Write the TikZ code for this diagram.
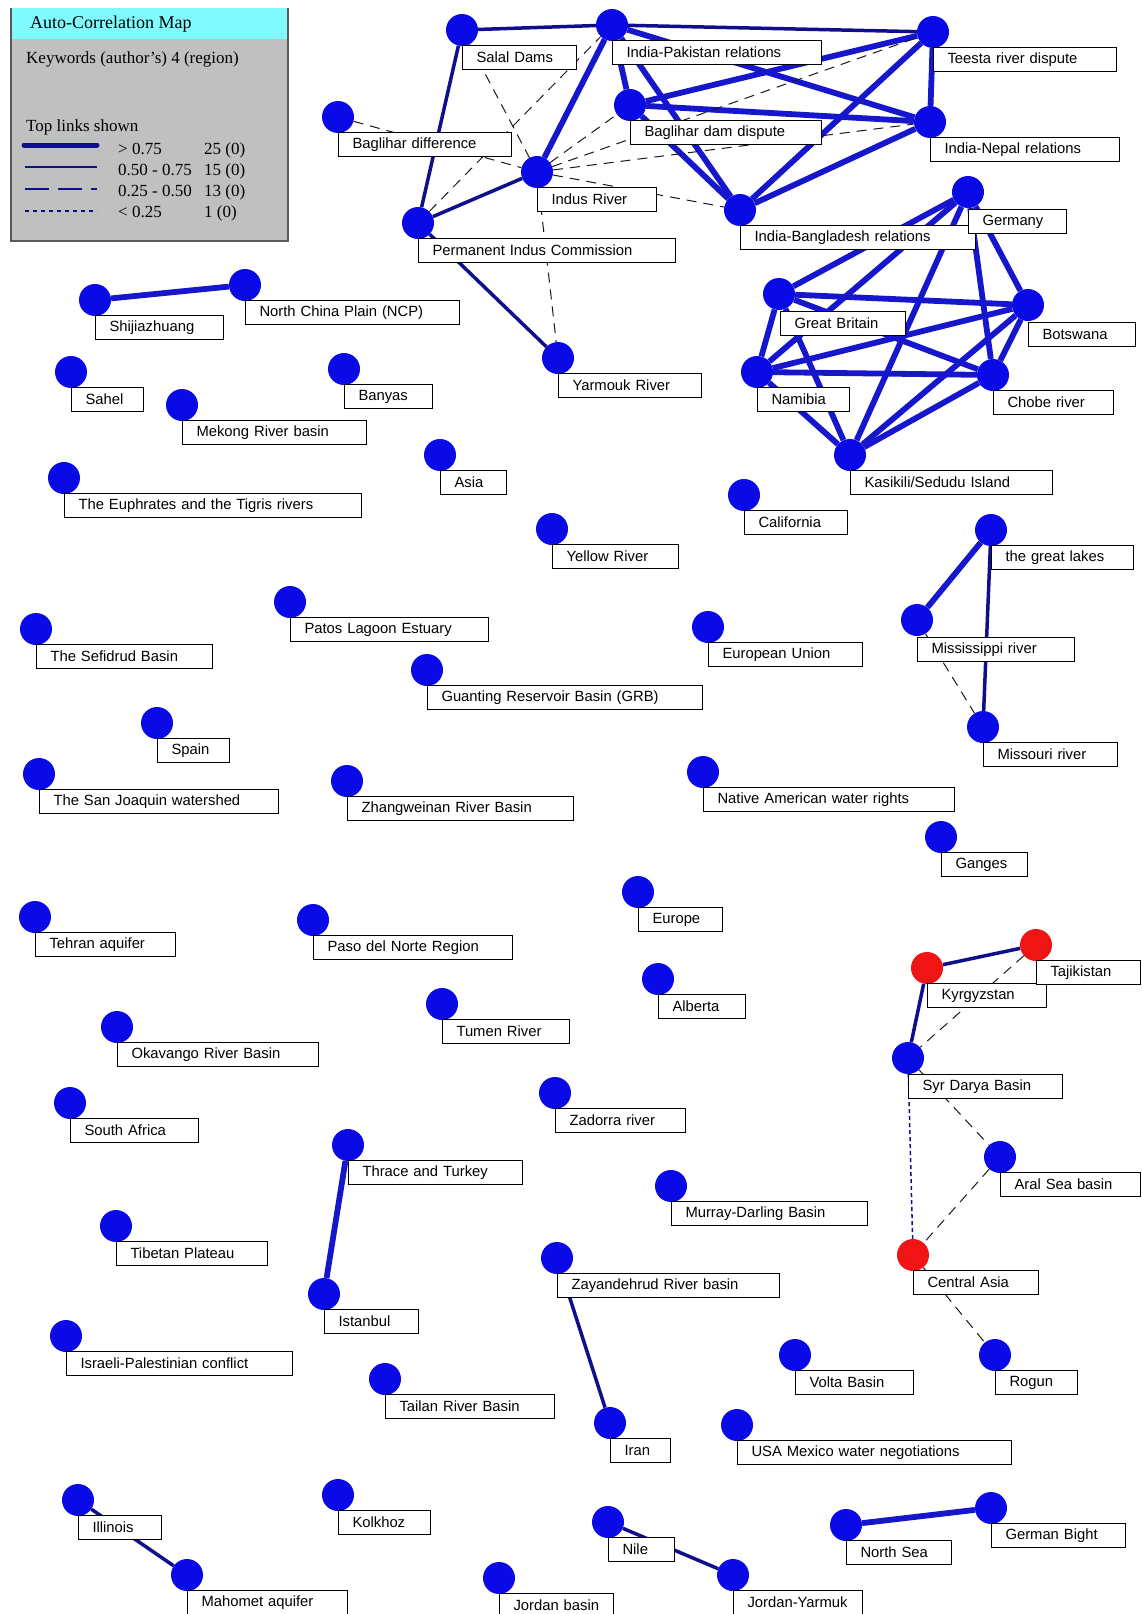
\documentclass[tikz,border=0pt]{standalone}
\usepackage{fontspec}
\setmainfont{Liberation Serif}
\newfontfamily\tagfont{Liberation Sans}
\usetikzlibrary{positioning,backgrounds}
\definecolor{kwblue}{RGB}{10,10,230}
\definecolor{kwred}{RGB}{240,20,20}
\definecolor{linkblue}{RGB}{22,22,205}
\definecolor{linknavy}{RGB}{15,15,140}
\definecolor{legendgrey}{RGB}{192,192,192}
\definecolor{legendcyan}{RGB}{128,250,255}
\hyphenpenalty=10000
\exhyphenpenalty=10000

\begin{document}
\begin{tikzpicture}[x=1pt, y=-1pt,
    kw/.style={circle, fill=kwblue, minimum size=32pt, inner sep=0pt},
    kwr/.style={kw, fill=kwred},
    tag/.style={draw, fill=white, line width=1pt, align=left, inner xsep=14pt, inner ysep=2pt, minimum height=24pt, font=\tagfont\fontsize{14.8}{17}\selectfont},
    tie strong/.style={linkblue, line width=5.8pt},
    tie mid/.style={linknavy, line width=3.5pt},
    tie weak/.style={black!90, line width=1pt, dash pattern=on 10pt off 7pt},
    tie faint/.style={linknavy, line width=1.5pt, dash pattern=on 4pt off 3pt},
    legtext/.style={anchor=base west, inner sep=0pt, font=\fontsize{17}{20}\selectfont}]
    \useasboundingbox (0,0) rectangle (1141,1614);

    % legend
    \fill[legendgrey] (11,8) rectangle (288,241);
    \fill[legendcyan] (12,8) rectangle (287,39);
    \draw[black!65, line width=1.5pt] (11,8) -- (11,241) -- (288,241) -- (288,8);
    \node[legtext, font=\fontsize{18}{21}\selectfont] (maptitle) at (30,28) {Auto-Correlation Map};
    \node[legtext] (kwtype) at (26,63) {Keywords (author's) 4 (region)};
    \node[legtext] (toplinks) at (26,131) {Top links shown};
    \node[legtext] (band1) at (118,154) {> 0.75};
    \node[legtext] (band2) at (118,175) {0.50 - 0.75};
    \node[legtext] (band3) at (118,196) {0.25 - 0.50};
    \node[legtext] (band4) at (118,217) {< 0.25};
    \node[legtext] (count1) at (204,154) {25 (0)};
    \node[legtext] (count2) at (204,175) {15 (0)};
    \node[legtext] (count3) at (204,196) {13 (0)};
    \node[legtext] (count4) at (204,217) {1 (0)};
    \draw[linknavy, line width=5pt, line cap=round] (24,145) -- (97,145);
    \draw[linknavy, line width=1.8pt] (25,167) -- (97,167);
    \draw[linknavy, line width=1.5pt, dash pattern=on 24pt off 9pt] (25,189) -- (97,189);
    \draw[linknavy, line width=1.3pt, dash pattern=on 4pt off 4pt] (25,211) -- (97,211);

    % India / Pakistan cluster
    \node[kw] (salal) at (462,30) {};
    \node[tag, text width=86pt, below right=15pt and 0pt of salal.center] (salal-t) {Salal Dams};
    \node[kw] (indpak) at (612,25) {};
    \node[tag, text width=181pt, below right=15pt and 0pt of indpak.center] (indpak-t) {India-Pakistan relations};
    \node[kw] (teesta) at (933,32) {};
    \node[tag, text width=155pt, below right=15pt and 0pt of teesta.center] (teesta-t) {Teesta river dispute};
    \node[kw] (bagdam) at (630,105) {};
    \node[tag, text width=163pt, below right=15pt and 0pt of bagdam.center] (bagdam-t) {Baglihar dam dispute};
    \node[kw] (indnep) at (930,122) {};
    \node[tag, text width=161pt, below right=15pt and 0pt of indnep.center] (indnep-t) {India-Nepal relations};
    \node[kw] (indus) at (537,172) {};
    \node[tag, text width=91pt, below right=15pt and 0pt of indus.center] (indus-t) {Indus River};
    \node[kw] (bagdiff) at (338,117) {};
    \node[tag, text width=145pt, below right=15pt and 0pt of bagdiff.center] (bagdiff-t) {Baglihar difference};
    \node[kw] (pic) at (418,223) {};
    \node[tag, text width=229pt, below right=15pt and 0pt of pic.center] (pic-t) {Permanent Indus Commission};
    \node[kw] (indbang) at (740,210) {};
    \node[tag, text width=207pt, below right=15pt and 0pt of indbang.center] (indbang-t) {India-Bangladesh relations};
    \node[kw] (yarmouk) at (558,358) {};
    \node[tag, text width=115pt, below right=15pt and 0pt of yarmouk.center] (yarmouk-t) {Yarmouk River};

    % Africa cluster
    \node[kw] (germany) at (968,192) {};
    \node[tag, text width=70pt, below right=17pt and 0pt of germany.center] (germany-t) {Germany};
    \node[kw] (britain) at (779,294) {};
    \node[tag, text width=97pt, below right=17pt and 1pt of britain.center] (britain-t) {Great Britain};
    \node[kw] (botswana) at (1028,305) {};
    \node[tag, text width=79pt, below right=17pt and 0pt of botswana.center] (botswana-t) {Botswana};
    \node[kw] (namibia) at (757,372) {};
    \node[tag, text width=64pt, below right=15pt and 0pt of namibia.center] (namibia-t) {Namibia};
    \node[kw] (chobe) at (993,375) {};
    \node[tag, text width=92pt, below right=15pt and 0pt of chobe.center] (chobe-t) {Chobe river};
    \node[kw] (kasikili) at (850,455) {};
    \node[tag, text width=174pt, below right=15pt and 0pt of kasikili.center] (kasikili-t) {Kasikili/Sedudu Island};

    % single keywords, left and middle
    \node[kw] (shijia) at (95,300) {};
    \node[tag, text width=100pt, below right=15pt and 0pt of shijia.center] (shijia-t) {Shijiazhuang};
    \node[kw] (ncp) at (245,285) {};
    \node[tag, text width=186pt, below right=15pt and 0pt of ncp.center] (ncp-t) {North China Plain (NCP)};
    \node[kw] (sahel) at (71,372) {};
    \node[tag, text width=44pt, below right=15pt and 0pt of sahel.center] (sahel-t) {Sahel};
    \node[kw] (banyas) at (344,369) {};
    \node[tag, text width=60pt, below right=15pt and 0pt of banyas.center] (banyas-t) {Banyas};
    \node[kw] (mekong) at (182,405) {};
    \node[tag, text width=156pt, below right=15pt and 0pt of mekong.center] (mekong-t) {Mekong River basin};
    \node[kw] (asia) at (440,455) {};
    \node[tag, text width=38pt, below right=15pt and 0pt of asia.center] (asia-t) {Asia};
    \node[kw] (euphrates) at (64,478) {};
    \node[tag, text width=269pt, below right=15pt and 0pt of euphrates.center] (euphrates-t) {The Euphrates and the Tigris rivers};
    \node[kw] (california) at (744,495) {};
    \node[tag, text width=75pt, below right=15pt and 0pt of california.center] (california-t) {California};
    \node[kw] (yellow) at (552,529) {};
    \node[tag, text width=98pt, below right=15pt and 0pt of yellow.center] (yellow-t) {Yellow River};
    \node[kw] (patos) at (290,602) {};
    \node[tag, text width=170pt, below right=15pt and 0pt of patos.center] (patos-t) {Patos Lagoon Estuary};
    \node[kw] (sefidrud) at (36,629) {};
    \node[tag, text width=148pt, below right=15pt and 0pt of sefidrud.center] (sefidrud-t) {The Sefidrud Basin};
    \node[kw] (eu) at (708,627) {};
    \node[tag, text width=126pt, below right=15pt and 0pt of eu.center] (eu-t) {European Union};
    \node[kw] (guanting) at (427,670) {};
    \node[tag, text width=247pt, below right=15pt and 0pt of guanting.center] (guanting-t) {Guanting Reservoir Basin (GRB)};
    \node[kw] (spain) at (157,723) {};
    \node[tag, text width=44pt, below right=15pt and 0pt of spain.center] (spain-t) {Spain};
    \node[kw] (sanjoaquin) at (39,774) {};
    \node[tag, text width=211pt, below right=15pt and 0pt of sanjoaquin.center] (sanjoaquin-t) {The San Joaquin watershed};
    \node[kw] (zhangweinan) at (347,781) {};
    \node[tag, text width=198pt, below right=15pt and 0pt of zhangweinan.center] (zhangweinan-t) {Zhangweinan River Basin};
    \node[kw] (native) at (703,772) {};
    \node[tag, text width=223pt, below right=15pt and 0pt of native.center] (native-t) {Native American water rights};
    \node[kw] (ganges) at (941,837) {};
    \node[tag, text width=58pt, below right=15pt and 0pt of ganges.center] (ganges-t) {Ganges};
    \node[kw] (europe) at (638,892) {};
    \node[tag, text width=56pt, below right=15pt and 0pt of europe.center] (europe-t) {Europe};
    \node[kw] (tehran) at (35,917) {};
    \node[tag, text width=112pt, below right=15pt and 0pt of tehran.center] (tehran-t) {Tehran aquifer};
    \node[kw] (paso) at (313,920) {};
    \node[tag, text width=171pt, below right=15pt and 0pt of paso.center] (paso-t) {Paso del Norte Region};
    \node[kw] (alberta) at (658,979) {};
    \node[tag, text width=59pt, below right=15pt and 0pt of alberta.center] (alberta-t) {Alberta};
    \node[kw] (tumen) at (442,1004) {};
    \node[tag, text width=99pt, below right=15pt and 0pt of tumen.center] (tumen-t) {Tumen River};
    \node[kw] (okavango) at (117,1027) {};
    \node[tag, text width=173pt, below right=15pt and 0pt of okavango.center] (okavango-t) {Okavango River Basin};
    \node[kw] (southafrica) at (70,1103) {};
    \node[tag, text width=100pt, below right=15pt and 0pt of southafrica.center] (southafrica-t) {South Africa};
    \node[kw] (zadorra) at (555,1093) {};
    \node[tag, text width=102pt, below right=15pt and 0pt of zadorra.center] (zadorra-t) {Zadorra river};
    \node[kw] (murray) at (671,1186) {};
    \node[tag, text width=168pt, below right=15pt and 0pt of murray.center] (murray-t) {Murray-Darling Basin};
    \node[kw] (tibet) at (116,1226) {};
    \node[tag, text width=123pt, below right=15pt and 0pt of tibet.center] (tibet-t) {Tibetan Plateau};
    \node[kw] (israeli) at (66,1336) {};
    \node[tag, text width=198pt, below right=15pt and 0pt of israeli.center] (israeli-t) {Israeli-Palestinian conflict};
    \node[kw] (volta) at (795,1355) {};
    \node[tag, text width=90pt, below right=15pt and 0pt of volta.center] (volta-t) {Volta Basin};
    \node[kw] (tailan) at (385,1379) {};
    \node[tag, text width=141pt, below right=15pt and 0pt of tailan.center] (tailan-t) {Tailan River Basin};
    \node[kw] (usamex) at (737,1425) {};
    \node[tag, text width=246pt, below right=15pt and 0pt of usamex.center] (usamex-t) {USA Mexico water negotiations};
    \node[kw] (kolkhoz) at (338,1495) {};
    \node[tag, text width=64pt, below right=15pt and 0pt of kolkhoz.center] (kolkhoz-t) {Kolkhoz};
    \node[kw] (jordanbasin) at (499,1578) {};
    \node[tag, text width=86pt, below right=15pt and 0pt of jordanbasin.center] (jordanbasin-t) {Jordan basin};

    % small linked groups
    \node[kw] (lakes) at (991,530) {};
    \node[tag, text width=114pt, below right=15pt and 0pt of lakes.center] (lakes-t) {the great lakes};
    \node[kw] (mississippi) at (917,620) {};
    \node[tag, text width=129pt, below right=17pt and 0pt of mississippi.center] (mississippi-t) {Mississippi river};
    \node[kw] (missouri) at (983,727) {};
    \node[tag, text width=106pt, below right=15pt and 0pt of missouri.center] (missouri-t) {Missouri river};
    \node[kwr] (kyrgyz) at (927,968) {};
    \node[tag, text width=91pt, below right=15pt and 0pt of kyrgyz.center] (kyrgyz-t) {Kyrgyzstan};
    \node[kwr] (tajik) at (1036,945) {};
    \node[tag, text width=76pt, below right=15pt and 0pt of tajik.center] (tajik-t) {Tajikistan};
    \node[kw] (syrdarya) at (908,1058) {};
    \node[tag, text width=126pt, below right=16pt and 0pt of syrdarya.center] (syrdarya-t) {Syr Darya Basin};
    \node[kw] (aral) at (1000,1157) {};
    \node[tag, text width=112pt, below right=15pt and 0pt of aral.center] (aral-t) {Aral Sea basin};
    \node[kwr] (centralasia) at (913,1255) {};
    \node[tag, text width=97pt, below right=15pt and 0pt of centralasia.center] (centralasia-t) {Central Asia};
    \node[kw] (rogun) at (995,1355) {};
    \node[tag, text width=54pt, below right=15pt and 0pt of rogun.center] (rogun-t) {Rogun};
    \node[kw] (thrace) at (348,1145) {};
    \node[tag, text width=146pt, below right=15pt and 0pt of thrace.center] (thrace-t) {Thrace and Turkey};
    \node[kw] (istanbul) at (324,1294) {};
    \node[tag, text width=66pt, below right=15pt and 0pt of istanbul.center] (istanbul-t) {Istanbul};
    \node[kw] (zayandeh) at (557,1258) {};
    \node[tag, text width=194pt, below right=15pt and 0pt of zayandeh.center] (zayandeh-t) {Zayandehrud River basin};
    \node[kw] (iran) at (610,1423) {};
    \node[tag, text width=32pt, below right=15pt and 0pt of iran.center] (iran-t) {Iran};
    \node[kw] (illinois) at (78,1500) {};
    \node[tag, text width=55pt, below right=15pt and 0pt of illinois.center] (illinois-t) {Illinois};
    \node[kw] (mahomet) at (187,1575) {};
    \node[tag, text width=132pt, below right=15pt and 0pt of mahomet.center] (mahomet-t) {Mahomet aquifer};
    \node[kw] (nile) at (608,1522) {};
    \node[tag, text width=38pt, below right=15pt and 0pt of nile.center] (nile-t) {Nile};
    \node[kw] (jordanyarmuk) at (733,1575) {};
    \node[tag, text width=101pt, below right=15pt and 0pt of jordanyarmuk.center] (jordanyarmuk-t) {Jordan-Yarmuk};
    \node[kw] (northsea) at (846,1525) {};
    \node[tag, text width=77pt, below right=15pt and 0pt of northsea.center] (northsea-t) {North Sea};
    \node[kw] (germanbight) at (991,1508) {};
    \node[tag, text width=106pt, below right=15pt and 0pt of germanbight.center] (germanbight-t) {German Bight};

    % links
    \begin{pgfonlayer}{background}
    \draw[tie mid] (salal) -- (indpak);
    \draw[tie mid] (salal) -- (pic);
    \draw[tie mid] (indus) -- (pic);
    \draw[tie mid] (indpak) -- (teesta);
    \draw[tie mid] (pic) -- (yarmouk);
    \draw[tie strong] (indpak) -- (indus);
    \draw[tie strong] (indpak) -- (bagdam);
    \draw[tie strong] (indpak) -- (indnep);
    \draw[tie strong] (indpak) -- (indbang);
    \draw[tie strong] (bagdam) -- (teesta);
    \draw[tie strong] (bagdam) -- (indnep);
    \draw[tie strong] (bagdam) -- (indbang);
    \draw[tie strong] (teesta) -- (indnep);
    \draw[tie strong] (teesta) -- (indbang);
    \draw[tie strong] (indnep) -- (indbang);
    \draw[tie weak] (salal) -- (indus);
    \draw[tie weak] (bagdiff) -- (indus);
    \draw[tie weak] (pic) -- (indpak);
    \draw[tie weak] (indus) -- (bagdam);
    \draw[tie weak] (indus) -- (teesta);
    \draw[tie weak] (indus) -- (indnep);
    \draw[tie weak] (indus) -- (indbang);
    \draw[tie weak] (indus) -- (yarmouk);

    \draw[tie strong] (germany) -- (britain);
    \draw[tie strong] (germany) -- (namibia);
    \draw[tie strong] (germany) -- (kasikili);
    \draw[tie strong] (germany) -- (chobe);
    \draw[tie strong] (germany) -- (botswana);
    \draw[tie strong] (britain) -- (botswana);
    \draw[tie strong] (britain) -- (chobe);
    \draw[tie strong] (britain) -- (namibia);
    \draw[tie strong] (britain) -- (kasikili);
    \draw[tie strong] (namibia) -- (botswana);
    \draw[tie strong] (namibia) -- (chobe);
    \draw[tie strong] (namibia) -- (kasikili);
    \draw[tie strong] (botswana) -- (chobe);
    \draw[tie strong] (botswana) -- (kasikili);
    \draw[tie strong] (chobe) -- (kasikili);

    \draw[tie strong] (shijia) -- (ncp);
    \draw[tie strong] (lakes) -- (mississippi);
    \draw[tie mid] (lakes) -- (missouri);
    \draw[tie weak] (mississippi) -- (missouri);
    \draw[tie mid] (kyrgyz) -- (tajik);
    \draw[tie mid] (kyrgyz) -- (syrdarya);
    \draw[tie weak] (tajik) -- (syrdarya);
    \draw[tie weak] (syrdarya) -- (aral);
    \draw[tie faint] (syrdarya) -- (centralasia);
    \draw[tie weak] (aral) -- (centralasia);
    \draw[tie weak] (centralasia) -- (rogun);
    \draw[tie strong] (thrace) -- (istanbul);
    \draw[tie mid] (zayandeh) -- (iran);
    \draw[tie mid] (illinois) -- (mahomet);
    \draw[tie mid] (nile) -- (jordanyarmuk);
    \draw[tie strong] (northsea) -- (germanbight);
    \end{pgfonlayer}
\end{tikzpicture}
\end{document}
